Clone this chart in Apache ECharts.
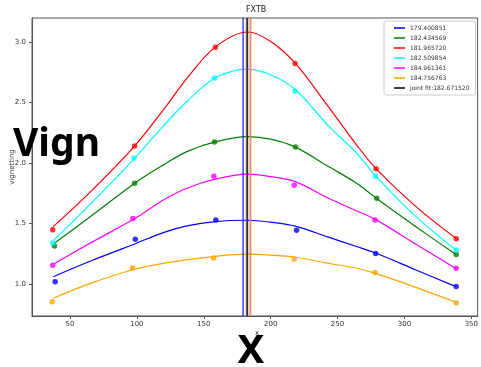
<!DOCTYPE html>
<html>
<head>
<meta charset="utf-8">
<script src="https://cdn.jsdelivr.net/npm/echarts@6/dist/echarts.min.js"></script>
<style>
  html, body { margin: 0; padding: 0; background: #fff; }
  #chart { width: 481px; height: 367px; }
</style>
</head>
<body>
<div id="chart"></div>
<script>
// Axis ticks
const xTicks = [50, 100, 150, 200, 250, 300, 350];
const yTicks = [1.0, 1.5, 2.0, 2.5, 3.0];

// Measured vignetting samples (x, value) per run
const blueX = [38.9, 98.8, 159.0, 219.4, 278.5, 338.7];
const blueY = [1.019, 1.370, 1.530, 1.444, 1.251, 0.978];
const greenX = [38.4, 98.3, 158.0, 218.6, 279.3, 338.7];
const greenY = [1.315, 1.834, 2.175, 2.132, 1.709, 1.243];
const redX = [37.1, 98.3, 158.7, 218.3, 278.8, 338.7];
const redY = [1.449, 2.142, 2.959, 2.824, 1.952, 1.375];
const cyanX = [37.1, 97.8, 158.0, 218.3, 278.3, 338.7];
const cyanY = [1.339, 2.041, 2.703, 2.595, 1.891, 1.281];
const magentaX = [37.1, 97.0, 157.5, 217.6, 278.0, 338.7];
const magentaY = [1.155, 1.541, 1.891, 1.817, 1.530, 1.130];
const orangeX = [36.7, 96.8, 157.3, 217.6, 278.0, 338.7];
const orangeY = [0.853, 1.132, 1.215, 1.207, 1.094, 0.843];

// Fitted curves, sampled along x
const fitX = [37.5, 66.8, 98.4, 119.8, 137.4, 158.5, 182.7, 200.0, 218.5, 243.2, 264.2, 278.9, 308.6, 338.5];
const blueFitY = [1.060, 1.196, 1.331, 1.425, 1.480, 1.516, 1.527, 1.511, 1.478, 1.387, 1.310, 1.254, 1.116, 0.978];
const greenFitY = [1.331, 1.570, 1.834, 1.985, 2.095, 2.175, 2.219, 2.198, 2.132, 1.971, 1.834, 1.709, 1.474, 1.243];
const redFitY = [1.474, 1.778, 2.142, 2.440, 2.700, 2.959, 3.084, 3.006, 2.824, 2.465, 2.151, 1.952, 1.640, 1.378];
const cyanFitY = [1.358, 1.679, 2.041, 2.308, 2.509, 2.703, 2.777, 2.730, 2.606, 2.308, 2.082, 1.888, 1.557, 1.281];
const magentaFitY = [1.163, 1.348, 1.541, 1.695, 1.792, 1.867, 1.908, 1.888, 1.847, 1.709, 1.605, 1.530, 1.329, 1.127];
const orangeFitY = [0.882, 1.011, 1.122, 1.171, 1.199, 1.229, 1.246, 1.238, 1.221, 1.171, 1.130, 1.085, 0.972, 0.849];

// Fitted centres per run and the joint fit
const centerLabels = ['179.400851', '182.434569', '181.965720', '182.509854', '184.961361', '184.756763'];
const centerValues = [179.400851, 182.434569, 181.965720, 182.509854, 184.961361, 184.756763];
const jointLabel = 'joint fit:182.671520';
const jointValue = 182.671520;

const colors = ['#0000ff', '#008000', '#ff0000', '#00ffff', '#ff00ff', '#ffa500'];
const runsX = [blueX, greenX, redX, cyanX, magentaX, orangeX];
const runsY = [blueY, greenY, redY, cyanY, magentaY, orangeY];
const fitsY = [blueFitY, greenFitY, redFitY, cyanFitY, magentaFitY, orangeFitY];

const X_MIN = 21.6, X_MAX = 354.7, Y_MIN = 0.735, Y_MAX = 3.2;
const zip = (xs, ys) => xs.map((x, i) => [x, ys[i]]);

const series = [];
for (let i = 0; i < colors.length; i++) {
  series.push({
    type: 'line', name: 'fit' + i, data: zip(fitX, fitsY[i]),
    smooth: 0.35, symbol: 'none', silent: true, z: 2,
    lineStyle: { color: colors[i], width: 1.2 }
  });
  series.push({
    type: 'scatter', name: 'pts' + i, data: zip(runsX[i], runsY[i]),
    symbolSize: 5.5, z: 3, itemStyle: { color: colors[i] }
  });
}
const vLine = (name, x, color) => ({
  type: 'line', name: name, data: [[x, Y_MIN], [x, Y_MAX]],
  symbol: 'none', z: 4, silent: true,
  lineStyle: { color: color, width: 1.5, opacity: 0.75 },
  itemStyle: { color: color, opacity: 0.75 }
});
for (let i = 0; i < centerValues.length; i++) series.push(vLine(centerLabels[i], centerValues[i], colors[i]));
series.push(vLine(jointLabel, jointValue, '#000000'));

const chart = echarts.init(document.getElementById('chart'), null, { renderer: 'canvas' });
const small = { fontFamily: 'DejaVu Sans', fontSize: 7, color: '#333' };
chart.setOption({
  animation: false,
  backgroundColor: '#fff',
  grid: { left: 32, top: 18, width: 450, height: 298, show: true, borderColor: '#555', borderWidth: 1 },
  xAxis: {
    type: 'value', min: X_MIN, max: X_MAX,
    axisLine: { show: true, onZero: false, lineStyle: { color: '#555' } },
    splitLine: { show: false },
    axisTick: { show: true, length: 3, customValues: xTicks, lineStyle: { color: '#555' } },
    axisLabel: Object.assign({ customValues: xTicks, margin: 5 }, small)
  },
  yAxis: {
    type: 'value', min: Y_MIN, max: Y_MAX,
    axisLine: { show: true, onZero: false, lineStyle: { color: '#555' } },
    splitLine: { show: false },
    axisTick: { show: true, length: 3, customValues: yTicks, lineStyle: { color: '#555' } },
    axisLabel: Object.assign({ customValues: yTicks, margin: 6, formatter: v => v.toFixed(1) }, small)
  },
  legend: {
    data: centerLabels.concat([jointLabel]),
    orient: 'vertical', left: 384, top: 21,
    backgroundColor: '#fff', borderColor: '#ccc', borderWidth: 1, borderRadius: 2,
    padding: [4, 6, 4, 10], itemGap: 4, itemWidth: 11, itemHeight: 2, icon: 'rect',
    textStyle: { fontFamily: 'DejaVu Sans', fontSize: 6, lineHeight: 6, color: '#333' }
  },
  graphic: [
    { type: 'text', left: 246, top: 6, style: { text: 'FXTB', font: '8px "DejaVu Sans"', fill: '#222' } },
    { type: 'text', x: 12, y: 167, rotation: Math.PI / 2,
      style: { text: 'vignetting', font: '7px "DejaVu Sans"', fill: '#333', align: 'center', verticalAlign: 'middle' } },
    { type: 'text', x: 257, y: 333, style: { text: 'x', font: '7px "DejaVu Sans"', fill: '#333', align: 'center', verticalAlign: 'middle' } },
    { type: 'text', x: 13, y: 145, z: 10,
      style: { text: 'Vign', font: 'bold 39px "Noto Sans"', fill: '#000', align: 'left', verticalAlign: 'middle' } },
    { type: 'text', x: 251, y: 352, z: 10,
      style: { text: 'X', font: 'bold 40px "Noto Sans"', fill: '#000', align: 'center', verticalAlign: 'middle' } }
  ],
  series: series
});
</script>
</body>
</html>
